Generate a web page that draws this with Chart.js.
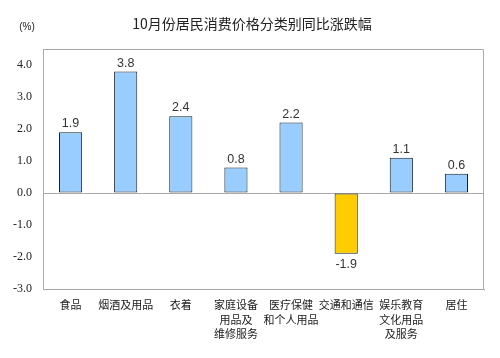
<!DOCTYPE html>
<html>
<head>
<meta charset="utf-8">
<script src="https://cdn.jsdelivr.net/npm/chart.js@4/dist/chart.umd.min.js"></script>
<style>
  html, body { margin: 0; padding: 0; background: #fff; }
  #wrap { width: 500px; height: 358px; position: relative; }
</style>
</head>
<body>
<div id="wrap"><canvas id="chart"></canvas></div>
<script>
// Categories (multi-line labels as in the picture)
const categories = [
    ['食品'],
    ['烟酒及用品'],
    ['衣着'],
    ['家庭设备', '用品及', '维修服务'],
    ['医疗保健', '和个人用品'],
    ['交通和通信'],
    ['娱乐教育', '文化用品', '及服务'],
    ['居住']
];

// Year-on-year change, %
const changeValues = [1.9, 3.8, 2.4, 0.8, 2.2, -1.9, 1.1, 0.6];

const titleText = '10月份居民消费价格分类别同比涨跌幅';
const unitText = '(%)';

const ctx = document.getElementById('chart').getContext('2d');

// Draws the title, the unit, the frame and the value labels
const extrasPlugin = {
    id: 'extras',
    afterDraw: (chart) => {
        const c = chart.ctx;
        const area = chart.chartArea;
        c.save();
        c.fillStyle = '#222';
        c.font = '14px "Noto Sans CJK SC"';
        c.textAlign = 'center';
        c.textBaseline = 'middle';
        c.fillText(titleText, 252, 24);
        c.font = '10px "Liberation Sans"';
        c.fillText(unitText, 27, 27);

        // gray frame round the plot
        c.strokeStyle = '#aaa';
        c.lineWidth = 1;
        c.beginPath();
        c.moveTo(area.left, area.top + 0.5);
        c.lineTo(area.right - 0.5, area.top + 0.5);
        c.lineTo(area.right - 0.5, area.bottom);
        c.stroke();

        // value labels
        const meta = chart.getDatasetMeta(0);
        c.font = '12.5px "Liberation Sans"';
        c.fillStyle = '#333';
        meta.data.forEach((bar, i) => {
            const v = changeValues[i];
            if (v >= 0) {
                c.textBaseline = 'bottom';
                c.fillText(v.toFixed(1), bar.x, bar.y - 2);
            } else {
                c.textBaseline = 'top';
                c.fillText(v.toFixed(1), bar.x, bar.y + 4);
            }
        });
        c.restore();
    }
};

new Chart(ctx, {
    type: 'bar',
    data: {
        labels: categories,
        datasets: [{
            data: changeValues,
            backgroundColor: changeValues.map(v => v < 0 ? '#FFCC00' : '#99CCFF'),
            borderColor: '#15202b',
            borderWidth: 1,
            borderSkipped: false,
            categoryPercentage: 1,
            barPercentage: 0.42
        }]
    },
    options: {
        responsive: true,
        maintainAspectRatio: false,
        animation: false,
        layout: { padding: { top: 49, right: 16, left: 0, bottom: 0 } },
        plugins: {
            legend: { display: false },
            tooltip: { enabled: false }
        },
        scales: {
            x: {
                grid: { display: false, drawTicks: false },
                border: { color: '#aaa' },
                ticks: {
                    color: '#222',
                    font: { family: '"Noto Sans CJK SC"', size: 11, lineHeight: 1.3 },
                    maxRotation: 0,
                    autoSkip: false,
                    padding: 9
                },
                afterFit: (scale) => { scale.height = 69; }
            },
            y: {
                min: -3,
                max: 4.5,
                grid: {
                    drawTicks: false,
                    color: (c) => c.tick && c.tick.value === 0 ? '#aaa' : 'rgba(0,0,0,0)'
                },
                border: { color: '#aaa' },
                ticks: {
                    stepSize: 1,
                    color: '#222',
                    padding: 11,
                    font: { family: '"Liberation Serif"', size: 12 },
                    callback: (v) => Number(v).toFixed(1)
                },
                afterBuildTicks: (scale) => {
                    scale.ticks = scale.ticks.filter(t => Number.isInteger(t.value));
                },
                afterFit: (scale) => { scale.width = 43; }
            }
        }
    },
    plugins: [extrasPlugin]
});
</script>
</body>
</html>
